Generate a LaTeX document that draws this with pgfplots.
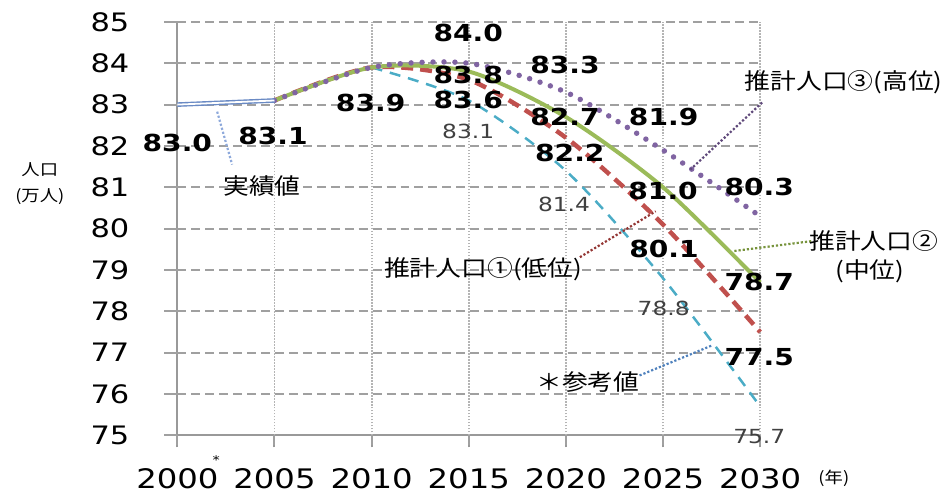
\documentclass[border=0pt]{standalone}
\usepackage{pgfplots}
\pgfplotsset{compat=1.18}
\usepackage{fontspec}
\setmainfont{DejaVu Sans}[FakeStretch=1.2]
\newfontfamily\cjk{Noto Sans CJK JP}[FakeStretch=1.15]
\definecolor{cgreen}{HTML}{9BBB59}
\definecolor{cred}{HTML}{C0504D}
\definecolor{cpurple}{HTML}{8064A2}
\definecolor{ccyan}{HTML}{4BACC6}
\definecolor{cblue}{HTML}{4F81BD}
\definecolor{cact}{HTML}{6A8AC4}
\definecolor{lblue}{HTML}{8EA9DB}
\definecolor{lpurple}{HTML}{604A7B}
\definecolor{lolive}{HTML}{77933C}
\definecolor{ldred}{HTML}{943634}
\definecolor{gridc}{HTML}{999999}
\definecolor{gridd}{HTML}{A0A0A0}
\definecolor{gridv}{HTML}{B4B4B4}
\newcommand\bl{\fontsize{23.5}{23.5}\selectfont\bfseries}
\newcommand\rl{\fontsize{19.5}{19.5}\selectfont\color[HTML]{404040}}
\newcommand\jp{\cjk\fontsize{22.5}{24}\selectfont}
\begin{document}
\begin{tikzpicture}
\path (-178pt,-56pt) rectangle (768pt,437pt);
\begin{axis}[
  at={(0pt,0pt)}, anchor=south west,
  scale only axis, width=585pt, height=415pt,
  xmin=2000, xmax=2030, ymin=75, ymax=85,
  xtick={2000,2005,2010,2015,2020,2025,2030}, ytick={75,76,77,78,79,80,81,82,83,84,85},
  axis x line*=bottom, axis y line*=left,
  axis line style={-, draw=gridc, line width=2pt},
  tick align=outside, major tick length=12pt,
  every tick/.append style={gridc, line width=2pt},
  /pgf/number format/assume math mode=true,
  /pgf/number format/1000 sep={},
  xticklabel style={font=\fontsize{27}{27}\selectfont, anchor=north, inner sep=0pt, yshift=-21pt},
  yticklabel style={font=\fontsize{25.5}{25.5}\selectfont, anchor=east, inner sep=0pt, xshift=-36pt},
  clip=false,
]
% grid and ticks
\pgfplotsinvokeforeach{76,77,78,79,80,81,82,83,84,85}{
  \draw[gridd, line width=1.8pt, dash pattern=on 9pt off 5pt] (axis cs:2000,#1) -- (axis cs:2030,#1);
}
\pgfplotsinvokeforeach{75,76,77,78,79,80,81,82,83,84,85}{
  \draw[gridd, line width=2pt] (axis cs:2000,#1) -- ++(-13pt,0pt);
}
\pgfplotsinvokeforeach{2005,2010,2015,2020,2025,2030}{
  \draw[gridv, line width=1.8pt, dash pattern=on 1.5pt off 1.5pt] (axis cs:#1,75) -- (axis cs:#1,85);
}
\pgfplotsinvokeforeach{2000,2005,2010,2015,2020,2025,2030}{
  \draw[gridd, line width=2pt] (axis cs:#1,75) -- ++(0pt,-10pt);
}
% reference
\addplot[draw=ccyan, line width=2.5pt, dash pattern=on 11pt off 8pt, smooth, tension=0.45]
  coordinates {(2010,83.9)(2015,83.1)(2020,81.4)(2025,78.8)(2030,75.7)};
% low
\addplot[draw=cred, line width=4.5pt, dash pattern=on 12pt off 7pt, smooth, tension=0.45]
  coordinates {(2005,83.1)(2010,83.9)(2015,83.6)(2020,82.2)(2025,80.1)(2030,77.5)};
% mid
\addplot[draw=cgreen, line width=4pt, smooth, tension=0.45]
  coordinates {(2005,83.1)(2010,83.9)(2015,83.8)(2020,82.7)(2025,81.0)(2030,78.7)};
% high
\addplot[draw=cpurple, line width=5.5pt, line cap=round, dash pattern=on 0pt off 11pt, smooth, tension=0.45]
  coordinates {(2005,83.1)(2010,83.9)(2015,84.0)(2020,83.3)(2025,81.9)(2030,80.3)};
% actual
\addplot[draw=cact, line width=1.4pt, double=white, double distance=1.8pt]
  coordinates {(2000,83.0)(2005,83.1)};

% leader lines
\draw[lblue, line width=2.2pt, dotted] (axis cs:2002.05,82.83) -- (axis cs:2002.82,81.55);
\draw[lpurple, line width=2.2pt, dotted] (axis cs:2030.10,83.05) -- (axis cs:2026.41,81.43);
\draw[lolive, line width=2.2pt, dotted] (axis cs:2028.67,79.46) -- (axis cs:2032.67,79.70);
\draw[ldred, line width=2.2pt, dotted] (axis cs:2020.72,79.31) -- (axis cs:2024.62,80.42);
\draw[cblue, line width=2.2pt, dotted] (axis cs:2023.79,76.45) -- (axis cs:2027.49,77.17);

% bold data labels
\node[font=\bl] at (axis cs:2000,82.08) {83.0};
\node[font=\bl] at (axis cs:2004.92,82.23) {83.1};
\node[font=\bl] at (axis cs:2009.95,83.05) {83.9};
\node[font=\bl] at (axis cs:2014.97,84.73) {84.0};
\node[font=\bl] at (axis cs:2014.97,83.72) {83.8};
\node[font=\bl] at (axis cs:2014.97,83.12) {83.6};
\node[font=\bl] at (axis cs:2019.95,83.96) {83.3};
\node[font=\bl] at (axis cs:2019.95,82.69) {82.7};
\node[font=\bl] at (axis cs:2020.2,81.82) {82.2};
\node[font=\bl] at (axis cs:2025.03,82.69) {81.9};
\node[font=\bl] at (axis cs:2025.0,80.90) {81.0};
\node[font=\bl] at (axis cs:2029.95,81.02) {80.3};
\node[font=\bl] at (axis cs:2025.05,79.51) {80.1};
\node[font=\bl] at (axis cs:2029.95,78.71) {78.7};
\node[font=\bl] at (axis cs:2029.95,76.90) {77.5};
% regular labels (reference values)
\node[font=\rl] at (axis cs:2014.97,82.35) {83.1};
\node[font=\rl] at (axis cs:2019.9,80.59) {81.4};
\node[font=\rl] at (axis cs:2025.03,78.06) {78.8};
\node[font=\rl] at (axis cs:2029.95,74.98) {75.7};

% annotations
\node[font=\jp] at (axis cs:2004.36,81.02) {実績値};
\node[font=\jp] at (axis cs:2034.3,83.53) {推計人口③(高位)};
\node[font=\jp] at (axis cs:2035.85,79.70) {推計人口②};
\node[font=\jp] at (axis cs:2035.64,78.98) {(中位)};
\node[font=\jp] at (axis cs:2015.74,79.02) {推計人口①(低位)};
\node[font=\jp] at (axis cs:2021.13,76.30) {＊参考値};

% axis titles
\node[font=\cjk\fontsize{16}{16}\selectfont] at (axis cs:1992.92,81.43) {人口};
\node[font=\cjk\fontsize{16}{16}\selectfont] at (axis cs:1992.92,80.78) {(万人)};
\node[font=\cjk\fontsize{16}{16}\selectfont] at (axis cs:2033.79,73.96) {(年)};
\node[font=\fontsize{12}{12}\selectfont] at (axis cs:2002.0,74.40) {*};
\end{axis}
\end{tikzpicture}
\end{document}
